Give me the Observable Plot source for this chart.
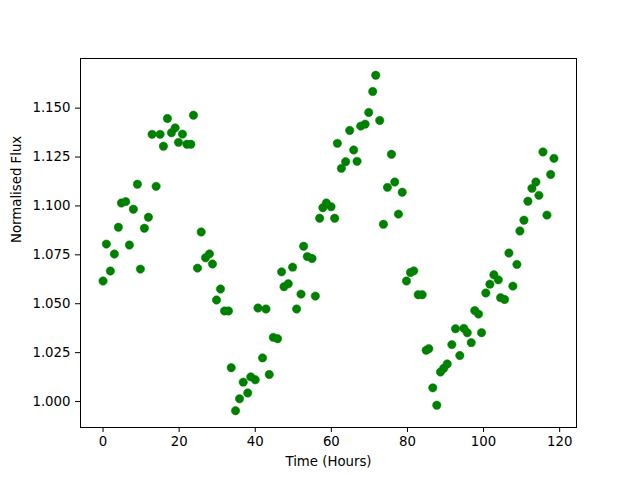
<!DOCTYPE html>
<html>
<head>
<meta charset="utf-8">
<script src="https://cdn.jsdelivr.net/npm/d3@7"></script>
<script src="https://cdn.jsdelivr.net/npm/@observablehq/plot@0.6"></script>
<style>
  html, body { margin: 0; padding: 0; background: #fff; }
  #chart svg { display: block; font-family: "DejaVu Sans", sans-serif; }
</style>
</head>
<body>
<div id="chart"></div>
<script>
const timeHours = [
  0.0, 0.87, 1.92, 2.97, 4.03, 4.82, 5.97, 6.92, 7.97, 9.03,
  9.82, 10.87, 11.92, 12.89, 13.95, 15.0, 15.87, 16.92, 17.97, 18.95,
  19.82, 20.87, 22.03, 23.08, 23.76, 24.82, 25.79, 26.92, 27.97, 28.76,
  29.82, 30.87, 31.92, 32.97, 33.68, 34.82, 35.87, 36.84, 38.03, 38.82,
  40.0, 40.71, 41.92, 42.82, 43.68, 44.74, 45.87, 46.92, 47.55, 48.68,
  49.82, 50.87, 52.03, 52.71, 53.68, 54.92, 55.79, 56.92, 57.76, 58.68,
  59.92, 60.87, 61.58, 62.63, 63.76, 64.82, 65.87, 66.76, 67.71, 68.87,
  69.82, 70.87, 71.66, 72.71, 73.68, 74.74, 75.79, 76.66, 77.63, 78.63,
  79.74, 80.79, 81.66, 82.82, 83.87, 84.92, 85.61, 86.66, 87.71, 88.68,
  89.55, 90.45, 91.66, 92.63, 93.76, 94.82, 95.71, 96.76, 97.68, 98.68,
  99.47, 100.6, 101.66, 102.71, 103.87, 104.47, 105.53, 106.66, 107.71, 108.76,
  109.55, 110.61, 111.66, 112.71, 113.76, 114.55, 115.61, 116.66, 117.63, 118.5
];
const normalisedFlux = [
  1.0616, 1.0805, 1.0667, 1.0754, 1.0891, 1.1015, 1.1022, 1.0800, 1.0983, 1.1111,
  1.0677, 1.0886, 1.0942, 1.1366, 1.1100, 1.1366, 1.1305, 1.1447, 1.1374, 1.1399,
  1.1325, 1.1367, 1.1315, 1.1315, 1.1464, 1.0682, 1.0867, 1.0735, 1.0755, 1.0703,
  1.0519, 1.0575, 1.0463, 1.0463, 1.0173, 0.9953, 1.0014, 1.0099, 1.0044, 1.0126,
  1.0111, 1.0478, 1.0223, 1.0473, 1.0138, 1.0328, 1.0321, 1.0663, 1.0587, 1.0602,
  1.0687, 1.0473, 1.0549, 1.0794, 1.0741, 1.0731, 1.0539, 1.0937, 1.0991, 1.1015,
  1.0996, 1.0937, 1.1320, 1.1192, 1.1226, 1.1386, 1.1286, 1.1228, 1.1408, 1.1418,
  1.1478, 1.1585, 1.1668, 1.1437, 1.0906, 1.1095, 1.1264, 1.1122, 1.0958, 1.1070,
  1.0616, 1.0660, 1.0668, 1.0546, 1.0546, 1.0262, 1.0270, 1.0070, 0.9981, 1.0151,
  1.0170, 1.0192, 1.0291, 1.0372, 1.0235, 1.0374, 1.0352, 1.0301, 1.0465, 1.0447,
  1.0352, 1.0555, 1.0600, 1.0648, 1.0622, 1.0531, 1.0522, 1.0759, 1.0590, 1.0701,
  1.0872, 1.0927, 1.1024, 1.1090, 1.1122, 1.1054, 1.1276, 1.0953, 1.1161, 1.1243
];
const xTicks = [0, 20, 40, 60, 80, 100, 120];
const yTicks = [1.000, 1.025, 1.050, 1.075, 1.100, 1.125, 1.150];
const xLabel = "Time (Hours)";
const yLabel = "Normalised Flux";

const data = timeHours.map((t, i) => ({t, f: normalisedFlux[i]}));

// matplotlib-style 5% margins around the data extent
const [tMin, tMax] = d3.extent(timeHours);
const [fMin, fMax] = d3.extent(normalisedFlux);
const tPad = (tMax - tMin) * 0.05;
const fPad = (fMax - fMin) * 0.05;

const fs = 13.3;
const chart = Plot.plot({
  width: 640,
  height: 480,
  marginLeft: 80,
  marginRight: 64,
  marginTop: 58,
  marginBottom: 53,
  style: {fontFamily: "DejaVu Sans, sans-serif", fontSize: fs + "px", color: "black", background: "white"},
  x: {domain: [tMin - tPad, tMax + tPad]},
  y: {domain: [fMin - fPad, fMax + fPad]},
  marks: [
    Plot.dot(data, {x: "t", y: "f", r: 4.2, fill: "#008000", stroke: "#008000", strokeWidth: 0.5}),
    Plot.frame({stroke: "black", strokeWidth: 1}),
    Plot.axisX({ticks: xTicks, tickSize: 5, tickPadding: 4, tickFormat: d3.format("d"), label: null, fontSize: fs, strokeWidth: 1}),
    Plot.axisY({ticks: yTicks, tickSize: 5, tickPadding: 5, tickFormat: d3.format(".3f"), label: null, fontSize: fs, strokeWidth: 1}),
    Plot.text([xLabel], {frameAnchor: "bottom", dy: 38, text: d => d, fontSize: fs, fill: "black"}),
    Plot.text([yLabel], {frameAnchor: "left", dx: -64, rotate: -90, text: d => d, fontSize: fs, fill: "black"})
  ]
});
document.getElementById("chart").appendChild(chart);
</script>
</body>
</html>
